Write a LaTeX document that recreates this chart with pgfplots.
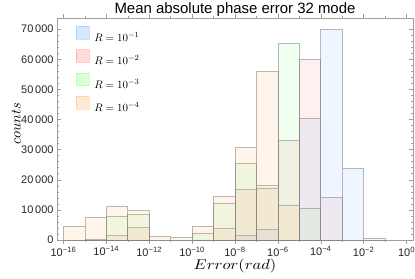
\documentclass[border=0pt]{standalone}
\usepackage[no-math]{fontspec}
\setmainfont{Liberation Sans}
\usepackage{pgfplots}
\pgfplotsset{compat=1.18}
\definecolor{cblue}{rgb}{0.3,0.6,1}
\definecolor{cred}{rgb}{1,0.35,0.35}
\definecolor{cgreen}{rgb}{0.35,1,0.35}
\definecolor{corange}{rgb}{1,0.65,0.3}
\definecolor{framegray}{gray}{0.62}
\begin{document}
\begin{tikzpicture}
\begin{axis}[
 at={(0,0)}, anchor=south west,
 scale only axis, width=356bp, height=222bp,
 xmin=-16.3, xmax=0.3, ymin=0, ymax=73700,
 axis line style={framegray, line width=0.6bp},
 tick style={framegray, line width=0.5bp},
 major tick length=4bp, minor tick length=2.2bp,
 xtick={-16,-14,...,0},
 xticklabels={10\textsuperscript{−16},10\textsuperscript{−14},10\textsuperscript{−12},10\textsuperscript{−10},10\textsuperscript{−8},10\textsuperscript{−6},10\textsuperscript{−4},10\textsuperscript{−2},10\textsuperscript{0}},
 xticklabel style={inner sep=2.5bp},
 minor xtick={-15,-13,...,-1},
 ytick={0,10000,...,70000},
 minor y tick num=4,
 scaled y ticks=false,
 yticklabel style={/pgf/number format/.cd, 1000 sep={\,}, assume math mode=true},
 ticklabel style={font=\fontsize{11}{12}\selectfont, text=black!85},
 ybar, bar width=1,
 legend style={draw=none, fill=none, at={(0,1)}, anchor=north west, xshift=19bp, yshift=-8bp, inner sep=0pt, row sep=3.5bp,
   font=\fontsize{11}{13}\selectfont, nodes={inner sep=1.5bp, text height=10bp, text depth=3bp}},
 legend cell align=left,
]
\addplot[fill=cblue, fill opacity=0.09, draw=black!50, draw opacity=0.55, line width=0.6bp, bar shift=0pt,
  legend image code/.code={\draw[fill=cblue, fill opacity=0.22, draw=cblue, draw opacity=0.3] (0bp,-1bp) rectangle (12.5bp,11.5bp);}]
 coordinates {(-7.5,1650) (-6.5,3550) (-4.5,40400) (-3.5,70000) (-2.5,23800) (-1.5,450)};
\addlegendentry{\hspace{3.5bp}$R=10^{-1}$}
\addplot[fill=cred, fill opacity=0.09, draw=black!50, draw opacity=0.55, line width=0.6bp, bar shift=0pt,
  legend image code/.code={\draw[fill=cred, fill opacity=0.22, draw=cred, draw opacity=0.3] (0bp,-1bp) rectangle (12.5bp,11.5bp);}]
 coordinates {(-13.5,1550) (-12.5,4200) (-8.5,3900) (-7.5,16800) (-6.5,17200) (-5.5,33000) (-4.5,60000) (-3.5,14200)};
\addlegendentry{\hspace{3.5bp}$R=10^{-2}$}
\addplot[fill=cgreen, fill opacity=0.09, draw=black!50, draw opacity=0.55, line width=0.6bp, bar shift=0pt,
  legend image code/.code={\draw[fill=cgreen, fill opacity=0.22, draw=cgreen, draw opacity=0.3] (0bp,-1bp) rectangle (12.5bp,11.5bp);}]
 coordinates {(-14.5,300) (-13.5,8000) (-12.5,8500) (-9.5,2300) (-8.5,12200) (-7.5,25500) (-6.5,18300) (-5.5,65350) (-4.5,10400)};
\addlegendentry{\hspace{3.5bp}$R=10^{-3}$}
\addplot[fill=corange, fill opacity=0.11, draw=black!50, draw opacity=0.55, line width=0.6bp, bar shift=0pt,
  legend image code/.code={\draw[fill=corange, fill opacity=0.25, draw=corange, draw opacity=0.3] (0bp,-1bp) rectangle (12.5bp,11.5bp);}]
 coordinates {(-15.5,4650) (-14.5,7400) (-13.5,11300) (-12.5,9750) (-11.5,1100) (-10.5,770) (-9.5,4650) (-8.5,14600) (-7.5,30800) (-6.5,55900) (-5.5,11500)};
\addlegendentry{\hspace{3.5bp}$R=10^{-4}$}
\end{axis}
\node[anchor=base, inner sep=0pt] at (178bp,226.7bp) {\fontsize{15}{17}\selectfont Mean absolute phase error 32 mode};
\node[anchor=base, inner sep=0pt, xscale=1.65, yscale=1.42] at (178bp,-29.5bp) {$Error(rad)$};
\node[anchor=base, rotate=90, inner sep=0pt, scale=1.44] at (-36.5bp,116bp) {$counts$};
\pgfresetboundingbox
\path (-57bp,-39bp) rectangle (358bp,240bp);
\end{tikzpicture}
\end{document}
